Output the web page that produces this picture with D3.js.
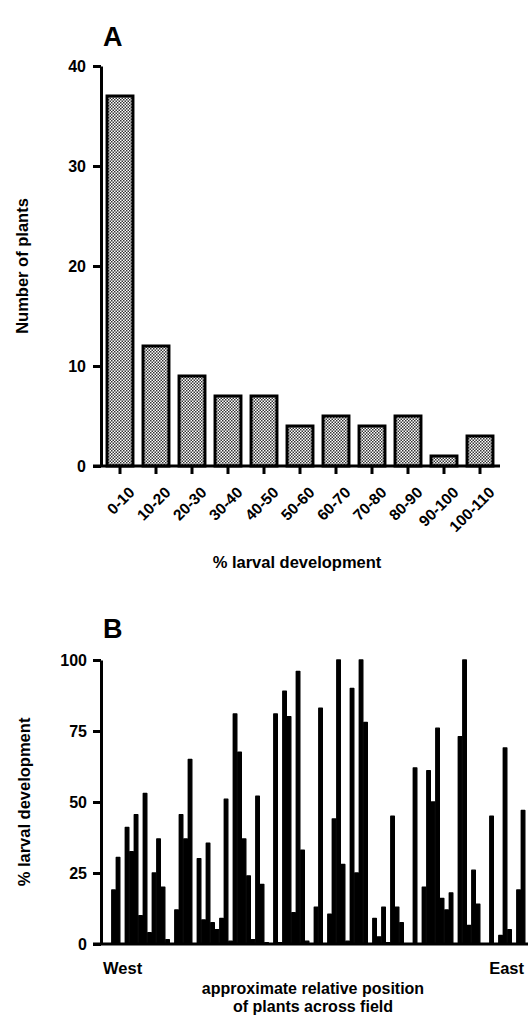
<!DOCTYPE html>
<html>
<head>
<meta charset="utf-8">
<script src="https://cdn.jsdelivr.net/npm/d3@7"></script>
<style>
  html, body { margin: 0; padding: 0; background: #fff; }
  svg { display: block; font-family: "Liberation Sans", Arial, sans-serif; font-weight: bold; }
</style>
</head>
<body>
<svg id="chart" width="528" height="1015"></svg>
<script>
// ---- Panel A data ----
const binLabels = ["0-10","10-20","20-30","30-40","40-50","50-60","60-70","70-80","80-90","90-100","100-110"];
const plantCounts = [37, 12, 9, 7, 7, 4, 5, 4, 5, 1, 3];
const yTicksA = [0, 10, 20, 30, 40];

// ---- Panel B data (plants ordered West -> East) ----
const larvalDev = [0, 0,
  19, 30.5, 0, 41, 32.5, 45.5, 10, 53, 4, 25, 37, 20, 1.5, 0, 12, 45.5, 37, 65, 0, 30,
  8.5, 35.5, 7.5, 5, 9, 51, 1, 81, 67.5, 37, 24, 1.5, 52, 21, 0.5, 0, 81, 0.5, 89, 80,
  11, 96, 33, 1, 0, 13, 83, 0, 10.5, 44, 100, 28, 1, 90, 25, 100, 78, 0, 9, 2.5, 13, 0.5,
  45, 13, 7.5, 0, 0, 62, 0, 20, 61, 50, 76, 16, 12, 18, 0, 73, 100, 6.5, 26, 14, 0, 0, 45,
  0, 3, 69, 5, 0, 19, 47];
const yTicksB = [0, 25, 50, 75, 100];

const FONT = "Liberation Sans, Arial, sans-serif";
const svg = d3.select("#chart");

// pattern for panel A bars
const defs = svg.append("defs");
const pat = defs.append("pattern").attr("id", "dots").attr("patternUnits", "userSpaceOnUse")
  .attr("width", 3).attr("height", 3);
pat.append("rect").attr("width", 3).attr("height", 3).attr("fill", "#fff");
pat.append("rect").attr("x", 0).attr("y", 0).attr("width", 1.5).attr("height", 1.5).attr("fill", "#333");
pat.append("rect").attr("x", 1.5).attr("y", 1.5).attr("width", 1.5).attr("height", 1.5).attr("fill", "#333");

// ================= Panel A =================
const xA = d3.scaleBand().domain(binLabels).range([102, 498]).paddingInner(0.28).paddingOuter(0.14);
const yA = d3.scaleLinear().domain([0, 40]).range([466, 66]);

svg.append("text").attr("x", 103).attr("y", 46).attr("font-size", 27).text("A");

svg.append("g").selectAll("rect").data(plantCounts).join("rect")
  .attr("x", (d, i) => xA(binLabels[i]))
  .attr("y", d => yA(d))
  .attr("width", xA.bandwidth())
  .attr("height", d => yA(0) - yA(d))
  .attr("fill", "url(#dots)")
  .attr("stroke", "#000").attr("stroke-width", 3);

const gyA = svg.append("g").attr("transform", "translate(101,0)")
  .call(d3.axisLeft(yA).tickValues(yTicksA).tickSize(8).tickPadding(7).tickSizeOuter(0));
gyA.select(".domain").attr("stroke-width", 3);
gyA.selectAll(".tick line").attr("stroke-width", 3);
gyA.selectAll(".tick text").attr("font-size", 16).attr("font-weight", "bold").attr("font-family", FONT);

const gxA = svg.append("g").attr("transform", "translate(0,466)")
  .call(d3.axisBottom(xA).tickSize(8).tickSizeOuter(0).tickPadding(4));
gxA.select(".domain").attr("d", "M93,0H500").attr("stroke-width", 3);
gxA.selectAll(".tick line").attr("stroke-width", 3);
gxA.selectAll(".tick text")
  .attr("font-size", 15.5).attr("font-weight", "bold").attr("font-family", FONT)
  .attr("text-anchor", "end").attr("dy", 0)
  .attr("transform", "translate(7,19) rotate(-45)");

svg.append("text").attr("x", 297).attr("y", 568).attr("text-anchor", "middle")
  .attr("font-size", 16.5).text("% larval development");
svg.append("text").attr("transform", "translate(28,266) rotate(-90)").attr("text-anchor", "middle")
  .attr("font-size", 16.5).text("Number of plants");

// ================= Panel B =================
const xB = d3.scaleBand().domain(d3.range(larvalDev.length)).range([102.3, 525.3]).padding(0);
const yB = d3.scaleLinear().domain([0, 100]).range([944, 660]);

svg.append("text").attr("x", 103).attr("y", 638).attr("font-size", 27).text("B");

svg.append("g").selectAll("rect").data(larvalDev).join("rect")
  .attr("x", (d, i) => xB(i) + 0.5)
  .attr("y", d => yB(d))
  .attr("width", xB.bandwidth() - 1)
  .attr("height", d => yB(0) - yB(d))
  .attr("fill", "#000").attr("stroke", "#000").attr("stroke-width", 1.4)
  .attr("stroke-linejoin", "round");

const gyB = svg.append("g").attr("transform", "translate(101,0)")
  .call(d3.axisLeft(yB).tickValues(yTicksB).tickSize(8).tickPadding(6).tickSizeOuter(0));
gyB.select(".domain").attr("stroke-width", 3);
gyB.selectAll(".tick line").attr("stroke-width", 3);
gyB.selectAll(".tick text").attr("font-size", 16).attr("font-weight", "bold").attr("font-family", FONT);

svg.append("line").attr("x1", 93).attr("x2", 528).attr("y1", yB(0)).attr("y2", yB(0))
  .attr("stroke", "#000").attr("stroke-width", 3);

svg.append("text").attr("x", 103).attr("y", 974).attr("font-size", 16.5).text("West");
svg.append("text").attr("x", 524).attr("y", 974).attr("text-anchor", "end").attr("font-size", 16.5).text("East");
svg.append("text").attr("x", 313).attr("y", 994).attr("text-anchor", "middle").attr("font-size", 16).text("approximate relative position");
svg.append("text").attr("x", 313).attr("y", 1012).attr("text-anchor", "middle").attr("font-size", 16).text("of plants across field");
svg.append("text").attr("transform", "translate(30,802) rotate(-90)").attr("text-anchor", "middle")
  .attr("font-size", 16.5).text("% larval development");
</script>
</body>
</html>
